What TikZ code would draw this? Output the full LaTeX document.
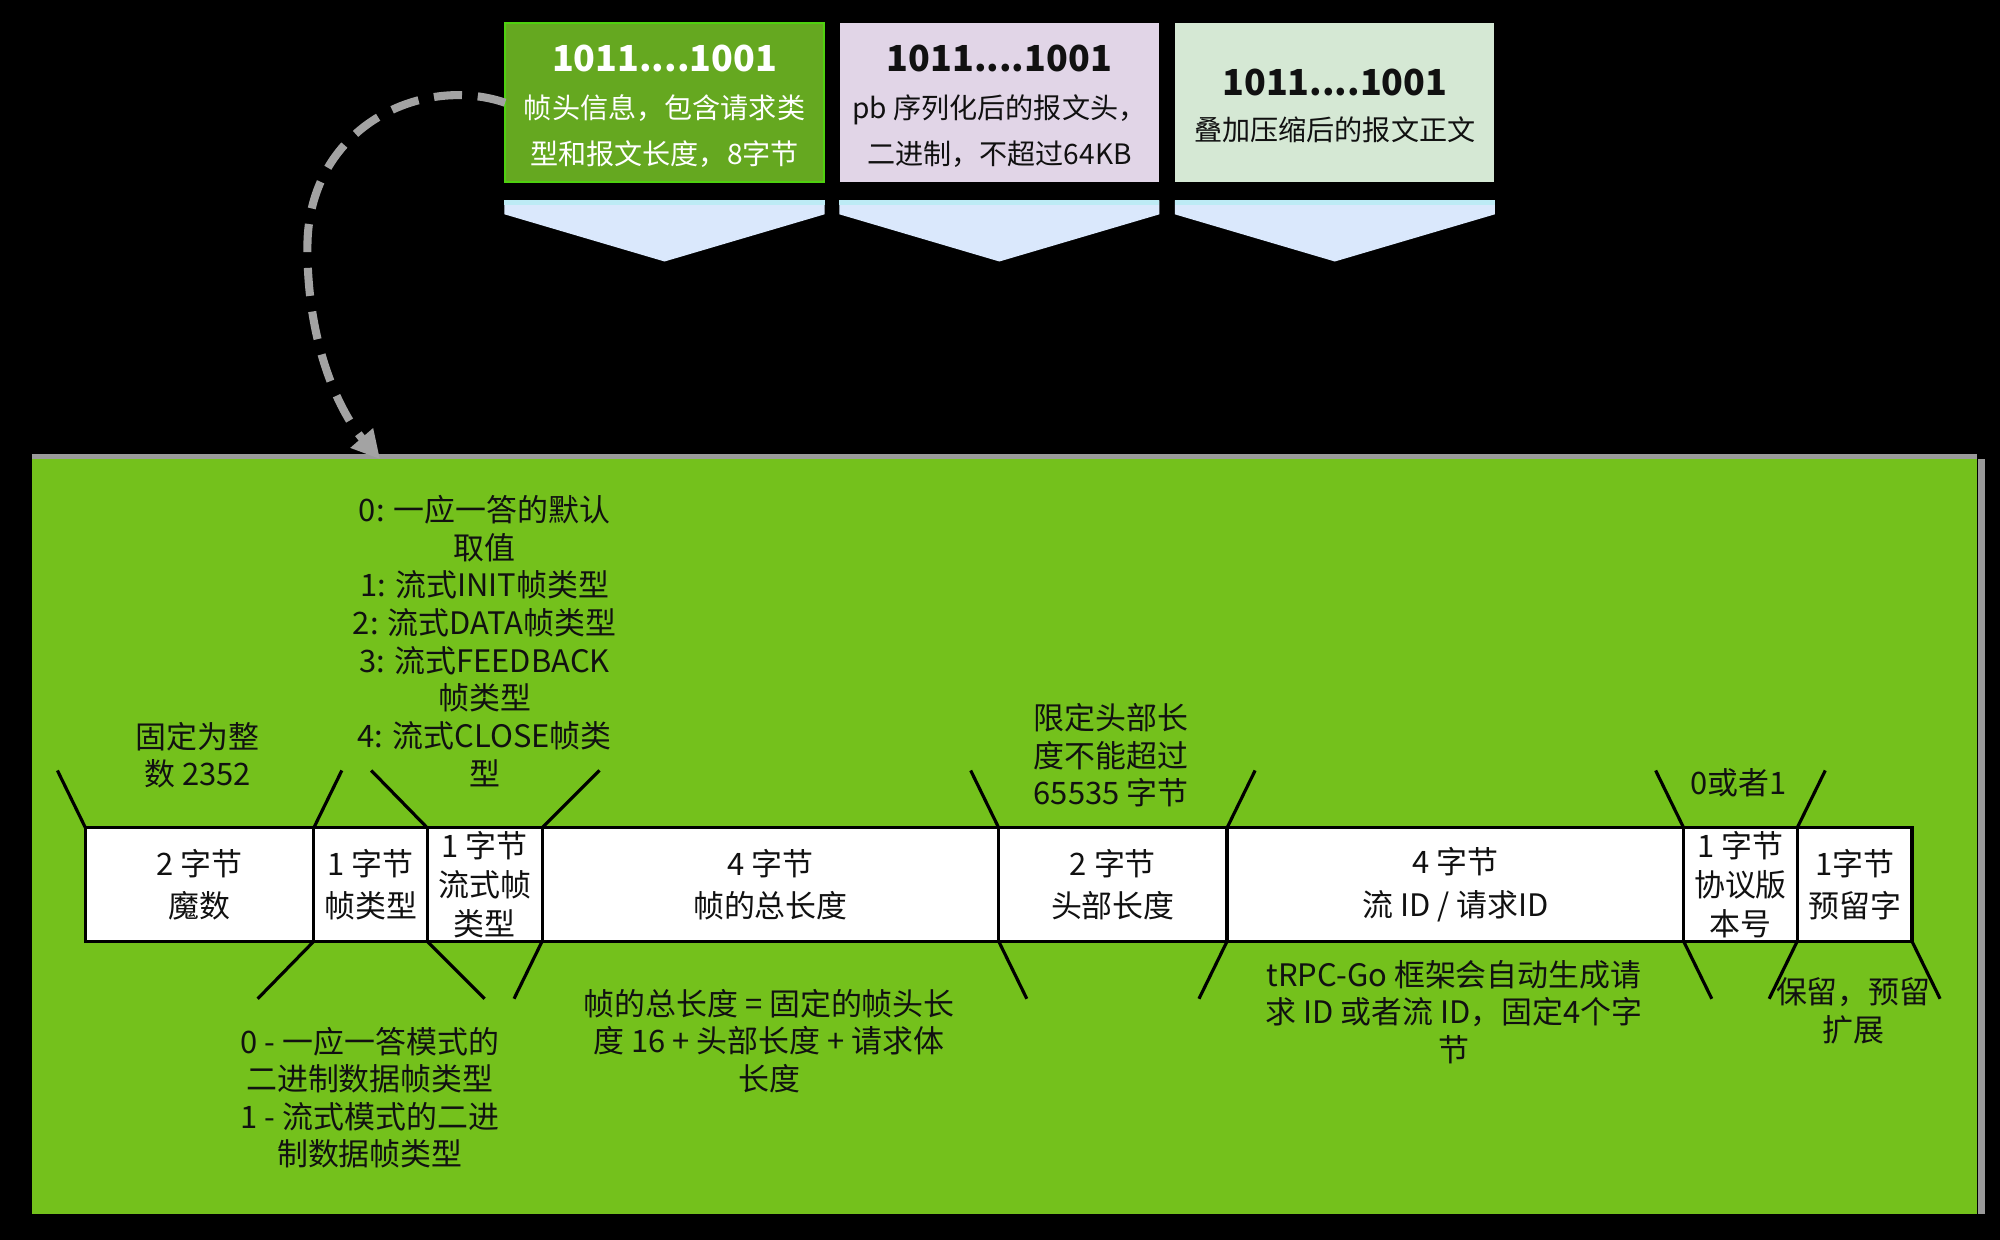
\documentclass[tikz,border=0pt]{standalone}
\usepackage{fontspec}
\setmainfont{Noto Sans CJK SC}
\usetikzlibrary{arrows.meta}
\def\pxu{0.01275cm}
\definecolor{framegreen}{HTML}{74C11C}
\definecolor{framegrey}{HTML}{9A9A9A}
\definecolor{boxgreen}{HTML}{65A820}
\definecolor{boxgreenline}{HTML}{4FD10F}
\definecolor{boxlilac}{HTML}{E1D5E7}
\definecolor{boxmint}{HTML}{D5E8D4}
\definecolor{chevblue}{HTML}{DAE8FC}
\definecolor{chevstripe}{HTML}{BDEBF5}
\definecolor{arrgrey}{HTML}{A3A3A3}
\definecolor{ink}{HTML}{111111}
\begin{document}
\begin{tikzpicture}[x=0.01275cm,y=-0.01275cm,
  frame/.style={fill=framegreen, draw=none, inner sep=0, outer sep=0,
    minimum width=1525*\pxu, minimum height=594*\pxu},
  topbox/.style={inner sep=0, outer sep=0, minimum width=250*\pxu, minimum height=125*\pxu},
  ttl/.style={inner sep=0, font=\bfseries\fontsize{10.2}{12}\selectfont},
  bodytxt/.style={inner sep=0, align=center, font=\fontsize{8}{13.06}\selectfont},
  chev/.style={fill=chevblue},
  stripe/.style={fill=chevstripe},
  fld/.style={draw=black, line width=0.9pt, fill=white, minimum height=89*\pxu,
    inner sep=0, outer sep=0, anchor=west},
  fldtxt/.style={inner sep=0, align=center, text=ink, font=\fontsize{8.8}{12}\selectfont},
  fldtxtthree/.style={inner sep=0, align=center, text=ink, font=\fontsize{8.8}{11.2}\selectfont},
  anno/.style={inner sep=0, align=center, text=ink, font=\fontsize{8.8}{10.7}\selectfont},
  brk/.style={draw=black, line width=0.9pt},
  dasharr/.style={draw=arrgrey, line width=2.3pt, dash pattern=on 8pt off 4.5pt,
    -{Triangle[length=8pt,width=8pt]}}
]
% background
\fill[black] (0,0) rectangle (1568,972);
\useasboundingbox (0,0) rectangle (1568,972);

% big frame
\node[frame] (frame) at (787.5,655) {};
\draw[framegrey, line width=1.45pt] (frame.north west) -- (frame.north east);
\fill[framegrey] (1551,360) rectangle (1556,952);

% top boxes
\node[topbox, fill=boxgreen, draw=boxgreenline, line width=0.6pt] (b1) at (521,80.5) {};
\node[topbox, fill=boxlilac] (b2) at (783.5,80.5) {};
\node[topbox, fill=boxmint] (b3) at (1046.5,80.5) {};

\node[ttl, text=white] (t1) at (521,46) {1011....1001};
\node[bodytxt, text=white] (d1) at (521,103) {帧头信息，包含请求类\\型和报文长度，8字节};
\node[ttl, text=ink] (t2) at (783.5,46) {1011....1001};
\node[bodytxt, text=ink] (d2) at (783.5,103) {pb 序列化后的报文头，\\二进制，不超过64KB};
\node[ttl, text=ink] (t3) at (1046.5,65) {1011....1001};
\node[bodytxt, text=ink] (d3) at (1046.5,102) {叠加压缩后的报文正文};

% chevrons under the top boxes
\foreach \cx in {521,783.5,1046.5}{
  \fill[chev] (\cx-125.5,157) -- (\cx+125.5,157) -- (\cx+125.5,168) -- (\cx,205) -- (\cx-125.5,168) -- cycle;
  \fill[stripe] (\cx-125.5,157) rectangle (\cx+125.5,161);
}

% dashed curved arrow
\coordinate (arrtip) at (298,360);
\draw[dasharr] (b1.west) .. controls (330,58) and (241,100) .. (241,194)
  .. controls (241,280) and (272,330) .. (arrtip);

% field row
\node[fld, minimum width=179*\pxu] (f1) at (67,693.5) {};
\node[fld, minimum width=89*\pxu] (f2) at (f1.east) {};
\node[fld, minimum width=90*\pxu] (f3) at (f2.east) {};
\node[fld, minimum width=358*\pxu] (f4) at (f3.east) {};
\node[fld, minimum width=179*\pxu] (f5) at (f4.east) {};
\node[fld, minimum width=358*\pxu] (f6) at (f5.east) {};
\node[fld, minimum width=89*\pxu] (f7) at (f6.east) {};
\node[fld, minimum width=90*\pxu] (f8) at (f7.east) {};

\node[fldtxt] (f1t) at (f1.center) {2 字节\\魔数};
\node[fldtxt] (f2t) at (f2.center) {1 字节\\帧类型};
\node[fldtxtthree] (f3t) at (f3.center) {1 字节\\流式帧\\类型};
\node[fldtxt] (f4t) at (f4.center) {4 字节\\帧的总长度};
\node[fldtxt] (f5t) at (f5.center) {2 字节\\头部长度};
\node[fldtxt] (f6t) at (f6.center) {4 字节\\流 ID / 请求ID};
\node[fldtxtthree] (f7t) at (f7.center) {1 字节\\协议版\\本号};
\node[fldtxt] (f8t) at (f8.center) {1字节\\预留字};

% brackets above
\draw[brk] (f1.north west) -- ++(-22,-45);
\draw[brk] (f1.north east) -- ++(22,-45);
\draw[brk] (f3.north west) -- ++(-44,-45);
\draw[brk] (f3.north east) -- ++(45,-45);
\draw[brk] (f5.north west) -- ++(-22,-45);
\draw[brk] (f5.north east) -- ++(22,-45);
\draw[brk] (f7.north west) -- ++(-22,-45);
\draw[brk] (f7.north east) -- ++(22,-45);
% brackets below
\draw[brk] (f2.south west) -- ++(-44,45);
\draw[brk] (f2.south east) -- ++(45,45);
\draw[brk] (f4.south west) -- ++(-22,45);
\draw[brk] (f4.south east) -- ++(22,45);
\draw[brk] (f6.south west) -- ++(-22,45);
\draw[brk] (f6.south east) -- ++(22,45);
\draw[brk] (f8.south west) -- ++(-22,45);
\draw[brk] (f8.south east) -- ++(22,45);

% annotations above
\node[anno] (a1) at (155,592) {固定为整\\数 2352};
\node[anno] (a3) at (380,502.5) {0: 一应一答的默认\\取值\\1: 流式INIT帧类型\\2: 流式DATA帧类型\\3: 流式FEEDBACK\\帧类型\\4: 流式CLOSE帧类\\型};
\node[anno] (a5) at (871,592) {限定头部长\\度不能超过\\65535 字节};
\node[anno] (a7) at (1363,614) {0或者1};
% annotations below
\node[anno] (a2) at (290,860.5) {0 - 一应一答模式的\\二进制数据帧类型\\1 - 流式模式的二进\\制数据帧类型};
\node[anno] (a4) at (603,816) {帧的总长度 = 固定的帧头长\\度 16 + 头部长度 + 请求体\\长度};
\node[anno] (a6) at (1140,793.5) {tRPC-Go 框架会自动生成请\\求 ID 或者流 ID，固定4个字\\节};
\node[anno] (a8) at (1453,792.5) {保留，预留\\扩展};
\end{tikzpicture}
\end{document}
